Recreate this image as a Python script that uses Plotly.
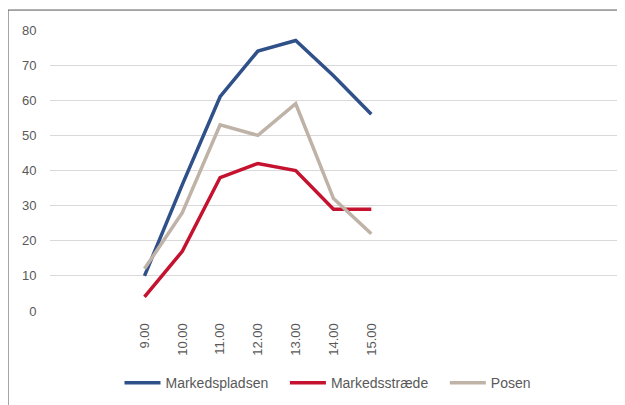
import plotly.graph_objects as go

hours = [9, 10, 11, 12, 13, 14, 15]
hour_labels = ["9.00", "10.00", "11.00", "12.00", "13.00", "14.00", "15.00"]

markedspladsen = [10, 36, 61, 74, 77, 67, 56]
markedsstraede = [4, 17, 38, 42, 40, 29, 29]
posen = [12, 28, 53, 50, 59, 32, 22]

series = [
    ("Markedspladsen", markedspladsen, "#2f5088"),
    ("Markedsstræde", markedsstraede, "#c4122f"),
    ("Posen", posen, "#bfb2a7"),
]

fig = go.Figure()
for name, vals, col in series:
    fig.add_trace(go.Scatter(
        x=hours, y=vals, name=name + "   ", mode="lines",
        line=dict(color=col, width=3.5),
    ))

font = dict(family="Liberation Sans, Arial, sans-serif", size=13, color="#595959")

# page body has an 8px margin, so the figure is sized to the remaining window
fig.update_layout(
    width=617, height=397,
    margin=dict(l=42, r=8, t=22, b=94, autoexpand=False),
    paper_bgcolor="white", plot_bgcolor="white",
    font=font,
    showlegend=True,
    legend=dict(orientation="h", x=0.5, xanchor="center",
                yref="container", y=0.055, yanchor="middle",
                font=dict(family=font["family"], size=14, color="#595959"),
                itemwidth=36, tracegroupgap=0),
    shapes=[
        dict(type="line", xref="paper", yref="paper",
             x0=-0.074, x1=1.03, y0=1.071, y1=1.071,
             line=dict(color="#555555", width=1)),
        dict(type="line", xref="paper", yref="paper",
             x0=-0.074, x1=-0.074, y0=1.071, y1=-0.4,
             line=dict(color="#555555", width=1)),
    ],
)
fig.update_xaxes(
    range=[6.5, 21.5], tickvals=hours, ticktext=hour_labels, tickangle=-90,
    showgrid=False, zeroline=False, showline=False, automargin=False,
    ticks="outside", ticklen=6, tickcolor="rgba(0,0,0,0)",
)
fig.update_yaxes(
    range=[0, 80], dtick=10, showgrid=True, gridcolor="#d9d9d9", gridwidth=1,
    zeroline=False, showline=False, automargin=False,
    ticks="outside", ticklen=10, tickcolor="rgba(0,0,0,0)",
)

fig.write_html("out.html")
